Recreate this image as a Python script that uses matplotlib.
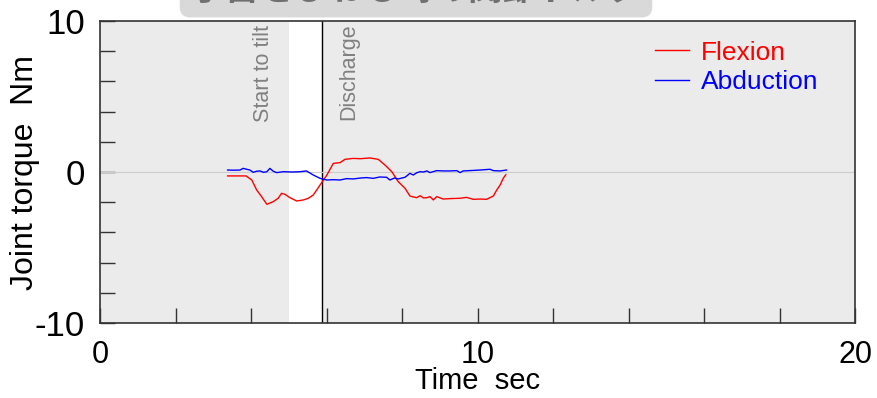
import matplotlib
matplotlib.use('Agg')
import matplotlib.pyplot as plt

plt.rcParams['font.family'] = ['Liberation Sans', 'Noto Sans CJK JP', 'DejaVu Sans']

TITLE = '手首をひねる時の関節トルク'

# flexion torque (red)
flex_t = [3.38, 3.87, 4.02, 4.15, 4.28, 4.42, 4.59, 4.72, 4.81, 4.90, 5.03, 5.21,
          5.39, 5.52, 5.65, 5.83, 6.01, 6.18, 6.36, 6.49, 6.71, 6.90, 7.15, 7.37,
          7.55, 7.73, 7.90, 8.08, 8.21, 8.30, 8.39, 8.48, 8.57, 8.66, 8.74, 8.83,
          8.92, 9.09, 9.30, 9.54, 9.71, 9.89, 10.07, 10.24, 10.33, 10.42, 10.51,
          10.60, 10.68, 10.75]
flex_v = [-0.26, -0.26, -0.53, -1.19, -1.63, -2.14, -1.96, -1.74, -1.41, -1.48, -1.70, -1.92,
          -1.85, -1.74, -1.52, -0.86, -0.20, 0.57, 0.62, 0.84, 0.90, 0.88, 0.93, 0.84,
          0.46, 0.02, -0.64, -1.08, -1.59, -1.65, -1.70, -1.57, -1.72, -1.70, -1.63, -1.85,
          -1.63, -1.79, -1.76, -1.74, -1.68, -1.81, -1.79, -1.81, -1.70, -1.59, -1.19,
          -0.86, -0.42, -0.18]

# abduction torque (blue)
abd_t = [3.38, 3.55, 3.71, 3.79, 3.97, 4.06, 4.15, 4.24, 4.33, 4.42, 4.50, 4.59, 4.68,
         4.86, 5.10, 5.30, 5.47, 5.65, 5.83, 6.01, 6.18, 6.36, 6.53, 6.71, 6.90, 7.06,
         7.24, 7.41, 7.59, 7.68, 7.80, 7.90, 8.08, 8.21, 8.30, 8.39, 8.48, 8.57, 8.66,
         8.74, 8.92, 9.10, 9.27, 9.45, 9.54, 9.62, 9.85, 10.07, 10.33, 10.42, 10.60,
         10.77]
abd_v = [0.13, 0.12, 0.13, 0.24, 0.13, -0.02, 0.05, 0.07, -0.02, 0.02, 0.24, 0.05, -0.04,
         0.02, 0.00, 0.02, 0.07, -0.20, -0.42, -0.53, -0.51, -0.53, -0.44, -0.46, -0.40, -0.37,
         -0.42, -0.33, -0.35, -0.53, -0.40, -0.46, -0.35, -0.09, -0.20, -0.05, 0.02, 0.00, 0.07,
         -0.04, 0.09, 0.07, 0.07, 0.09, -0.04, 0.07, 0.10, 0.13, 0.18, 0.09, 0.07,
         0.13]

tilt_start = 5.0
discharge = 5.88

fig = plt.figure(figsize=(8.77, 3.98), dpi=100)
ax = fig.add_axes([100 / 877, 75 / 398, 755 / 877, 302 / 398])
ax.set_facecolor('#ebebeb')

ax.axvspan(tilt_start, discharge, color='white', lw=0)
ax.axvline(discharge, color='black', lw=1)
ax.axhline(0, color='#cccccc', lw=0.8)

ax.plot(flex_t, flex_v, color='red', lw=1, label='Flexion')
ax.plot(abd_t, abd_v, color='blue', lw=1, label='Abduction')

ax.text(tilt_start - 0.66, 9.75, 'Start to tilt', rotation=90, ha='center', va='top',
        color='#808080', fontsize=15.5)
ax.text(discharge + 0.72, 9.85, 'Discharge', rotation=90, ha='center', va='top',
        color='#808080', fontsize=15.5)

ax.set_xlim(0, 20)
ax.set_ylim(-10, 10)
ax.set_xticks(range(0, 21, 2))
ax.set_xticklabels(['0' if v == 0 else '10' if v == 10 else '20' if v == 20 else ''
                    for v in range(0, 21, 2)])
ax.set_yticks(range(-10, 11, 2))
ax.set_yticklabels(['-10' if v == -10 else '0' if v == 0 else '10' if v == 10 else ''
                    for v in range(-10, 11, 2)])
ax.tick_params(direction='in', length=11, width=1, color='#333333', labelsize=25)
ax.tick_params(axis='x', pad=12, labelsize=22)
ax.tick_params(axis='y', pad=11)
for sp in ax.spines.values():
    sp.set_color('#333333')
    sp.set_linewidth(1.2)

ax.set_xlabel('Time  sec', fontsize=21, labelpad=-2)
ax.set_ylabel('Joint torque  Nm', fontsize=23, labelpad=-4)

leg = ax.legend(loc='upper left', bbox_to_anchor=(0.735, 0.935), frameon=False,
                fontsize=19, handlelength=1.3, handletextpad=0.45, labelspacing=0.2,
                borderpad=0, borderaxespad=0)
for txt, line in zip(leg.get_texts(), leg.get_lines()):
    txt.set_color(line.get_color())

fig.text(416 / 877, 1 - 7 / 398, TITLE, ha='center', va='bottom', fontsize=25,
         fontweight='bold', color='#707070',
         bbox=dict(boxstyle='round,pad=0.3', fc='#d9d9d9', ec='none'))

fig.savefig('out.png', dpi=100)
